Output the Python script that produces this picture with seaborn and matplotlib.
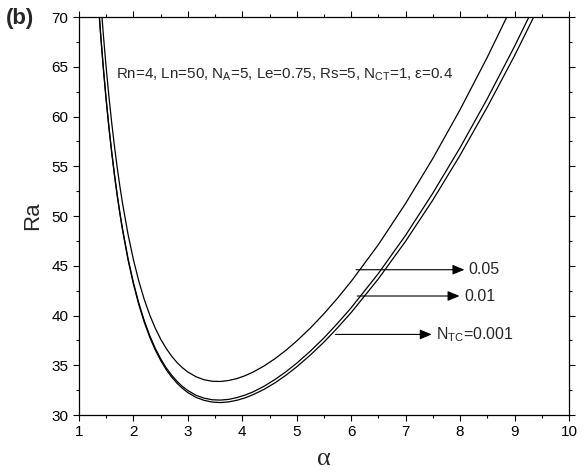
import matplotlib
matplotlib.use("Agg")
import matplotlib.pyplot as plt
import seaborn as sns
import pandas as pd

# ---- data ----
alpha_005 = [1.40, 1.45, 1.50, 1.55, 1.60, 1.65, 1.70, 1.75, 1.80, 1.90, 2.00, 2.10, 2.20, 2.30,
             2.40, 2.50, 2.60, 2.70, 2.80, 2.90, 3.00, 3.15, 3.30, 3.45, 3.60, 3.75, 3.90, 4.05,
             4.20, 4.40, 4.60, 4.80, 5.00, 5.25, 5.50, 5.75, 6.00, 6.50, 7.00, 7.50, 8.00, 8.50, 9.00]
ra_005 = [71.60, 68.07, 64.88, 62.02, 59.43, 57.09, 54.96, 53.03, 51.27, 48.19, 45.61, 43.43, 41.60, 40.05,
          38.74, 37.63, 36.71, 35.93, 35.28, 34.75, 34.32, 33.84, 33.54, 33.39, 33.37, 33.47, 33.66, 33.95,
          34.32, 34.93, 35.66, 36.50, 37.44, 38.74, 40.18, 41.75, 43.43, 47.13, 51.27, 55.79, 60.69, 65.96, 71.60]

alpha_001 = [1.35, 1.40, 1.45, 1.50, 1.55, 1.60, 1.65, 1.70, 1.75, 1.80, 1.90, 2.00, 2.10, 2.20, 2.30,
             2.40, 2.50, 2.60, 2.70, 2.80, 2.90, 3.00, 3.15, 3.30, 3.45, 3.60, 3.75, 3.90, 4.05,
             4.20, 4.40, 4.60, 4.80, 5.00, 5.25, 5.50, 5.75, 6.00, 6.50, 7.00, 7.50, 8.00, 8.50, 9.00, 9.50]
ra_001 = [71.91, 68.13, 64.75, 61.71, 58.98, 56.52, 54.27, 52.24, 50.39, 48.71, 45.76, 43.30, 41.22, 39.47, 37.98,
          36.72, 35.66, 34.76, 34.02, 33.39, 32.87, 32.46, 31.98, 31.69, 31.53, 31.50, 31.57, 31.75, 32.00,
          32.33, 32.89, 33.57, 34.34, 35.21, 36.42, 37.75, 39.22, 40.78, 44.23, 48.07, 52.30, 56.87, 61.79, 67.05, 72.63]

alpha_0001 = [1.35, 1.40, 1.45, 1.50, 1.55, 1.60, 1.65, 1.70, 1.75, 1.80, 1.90, 2.00, 2.10, 2.20, 2.30,
              2.40, 2.50, 2.60, 2.70, 2.80, 2.90, 3.00, 3.15, 3.30, 3.45, 3.60, 3.75, 3.90, 4.05,
              4.20, 4.40, 4.60, 4.80, 5.00, 5.25, 5.50, 5.75, 6.00, 6.50, 7.00, 7.50, 8.00, 8.50, 9.00, 9.50]
ra_0001 = [71.82, 68.03, 64.65, 61.61, 58.87, 56.40, 54.16, 52.12, 50.27, 48.58, 45.63, 43.16, 41.07, 39.31, 37.82,
           36.55, 35.49, 34.58, 33.83, 33.20, 32.68, 32.25, 31.77, 31.47, 31.30, 31.25, 31.32, 31.48, 31.72,
           32.05, 32.58, 33.23, 33.99, 34.84, 36.03, 37.33, 38.77, 40.30, 43.69, 47.47, 51.61, 56.11, 60.95, 66.11, 71.62]

series_names = ["0.05", "0.01", "0.001"]
label_texts = ["0.05", "0.01", "N$_\\mathregular{TC}$=0.001"]
arrow_ra = [44.6, 41.96, 38.1]
arrow_start = [6.09, 6.11, 5.71]
arrow_end = [8.08, 7.99, 7.48]

x_ticks = [1, 2, 3, 4, 5, 6, 7, 8, 9, 10]
y_ticks = [30, 35, 40, 45, 50, 55, 60, 65, 70]

frames = []
for name, a, r in zip(series_names, [alpha_005, alpha_001, alpha_0001], [ra_005, ra_001, ra_0001]):
    frames.append(pd.DataFrame({"alpha": a, "Ra": r, "NTC": name}))
df = pd.concat(frames, ignore_index=True)

sns.set_style("ticks")
plt.rcParams["font.family"] = ["Liberation Sans", "DejaVu Sans"]
plt.rcParams["mathtext.fontset"] = "custom"
plt.rcParams["mathtext.rm"] = "Liberation Sans"
plt.rcParams["mathtext.it"] = "Liberation Sans"

fig = plt.figure(figsize=(5.85, 4.75), dpi=100)
ax = fig.add_axes([0.135, 0.1263, 0.8376, 0.8379])

sns.lineplot(data=df, x="alpha", y="Ra", hue="NTC", units="NTC", estimator=None,
             palette=["black", "black", "black"], linewidth=0.9, legend=False, ax=ax, sort=False)

ax.set_xlim(1, 10)
ax.set_ylim(30, 70)
ax.set_xticks(x_ticks)
ax.set_yticks(y_ticks)
ax.set_xticks([v + 0.5 for v in x_ticks[:-1]], minor=True)
ax.set_yticks([v + 2.5 for v in y_ticks[:-1]], minor=True)
ax.tick_params(which="both", direction="out", top=True, right=True, labeltop=False, labelright=False,
               width=0.8, colors="black", labelsize=11)
ax.tick_params(which="major", length=4)
ax.tick_params(which="minor", length=2.5)
for s in ax.spines.values():
    s.set_linewidth(0.9)
    s.set_color("black")

ax.set_xlabel("α", fontsize=19, family=["Liberation Serif", "DejaVu Serif"], labelpad=6)
ax.set_ylabel("Ra", fontsize=16, labelpad=6)

for lab, y, x0, x1 in zip(label_texts, arrow_ra, arrow_start, arrow_end):
    ax.annotate("", xy=(x1, y), xytext=(x0, y),
                arrowprops=dict(arrowstyle="-|>,head_length=0.6,head_width=0.25", color="black",
                                lw=0.8, mutation_scale=12, shrinkA=0, shrinkB=0))
    ax.text(x1 + 0.08, y, lab, fontsize=11.5, va="center", ha="left")

ax.text(1.68, 64.2, "Rn=4, Ln=50, N$_\\mathregular{A}$=5, Le=0.75, Rs=5, N$_\\mathregular{CT}$=1, ε=0.4",
        fontsize=10.9, va="center", ha="left")

fig.text(0.01, 0.962, "(b)", fontsize=16, fontweight="bold", va="center", ha="left")

fig.savefig("out.png", dpi=100)
